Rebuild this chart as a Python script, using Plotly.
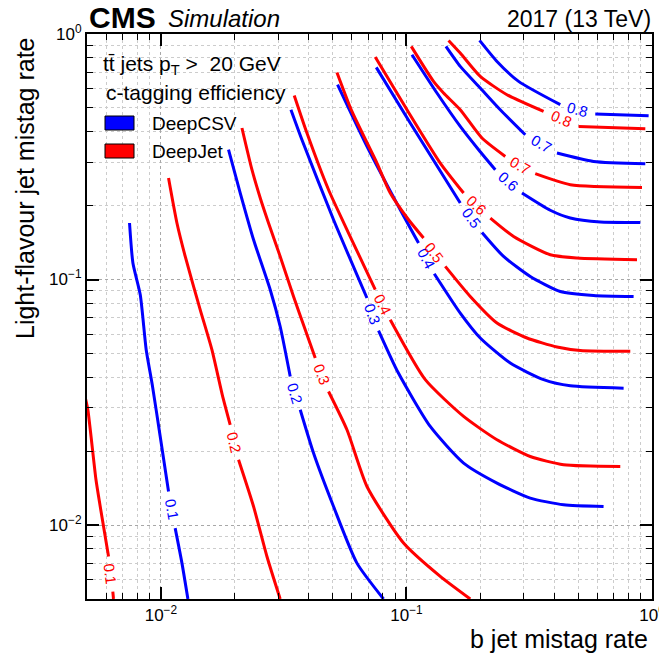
import math
import plotly.graph_objects as go

# ---------------- data ----------------
# x = b jet mistag rate, y = light-flavour jet mistag rate ; None marks the gap where the label sits
levels = ["0.1", "0.2", "0.3", "0.4", "0.5", "0.6", "0.7", "0.8"]

csv_01_x = [0.00745, 0.00769, 0.00824, 0.00871, 0.00922, 0.00993, 0.01074, None, 0.01143, 0.01218, 0.01288]
csv_01_y = [0.1699, 0.1168, 0.0867, 0.0518, 0.0373, 0.0230, 0.01370, None, 0.00972, 0.00700, 0.00500]
csv_02_x = [0.01885, 0.02104, 0.02384, 0.02787, 0.03060, 0.03362, None, 0.03693, 0.04183, 0.05047, 0.06285, 0.08067]
csv_02_y = [0.3379, 0.2251, 0.1453, 0.0909, 0.0644, 0.0403, None, 0.02949, 0.01965, 0.01190, 0.00700, 0.00500]
csv_03_x = [0.03385, 0.03752, 0.05047, 0.06904, None, 0.07698, 0.09261, 0.1250, 0.1709, 0.2337, 0.3193, 0.4364, 0.6350]
csv_03_y = [0.4916, 0.3710, 0.1752, 0.0841, None, 0.0620, 0.0417, 0.02521, 0.01789, 0.01483, 0.01288, 0.01210, 0.01190]
csv_04_x = [0.05240, 0.06904, 0.09435, 0.1120, None, 0.1298, 0.1656, 0.1998, 0.2647, 0.3618, 0.4648, 0.7663]
csv_04_y = [0.6217, 0.3485, 0.1924, 0.1408, None, 0.1056, 0.0730, 0.0578, 0.0457, 0.0391, 0.0369, 0.0361]
csv_05_x = [0.07534, 0.1036, 0.1656, None, 0.2030, 0.2486, 0.3193, 0.4231, 0.5783, 0.8415]
csv_05_y = [0.7311, 0.4340, 0.2049, None, 0.1555, 0.1242, 0.1029, 0.0894, 0.0861, 0.0853]
csv_06_x = [0.1053, 0.1331, 0.1656, 0.1967, 0.2300, None, 0.2954, 0.3852, 0.4648, 0.6160, 0.8960]
csv_06_y = [0.8235, 0.5750, 0.4204, 0.3379, 0.2801, None, 0.2251, 0.1915, 0.1780, 0.1715, 0.1709]
csv_07_x = [0.1448, 0.1656, 0.1998, 0.2410, 0.3047, None, 0.4102, 0.5783, 0.9391]
csv_07_y = [0.8902, 0.7380, 0.6026, 0.4916, 0.3889, None, 0.3276, 0.3027, 0.2962]
csv_08_x = [0.1985, 0.2337, 0.2862, 0.4231, None, 0.5875, 0.9687]
csv_08_y = [0.9417, 0.7731, 0.6411, 0.5153, None, 0.4722, 0.4648]

jet_01_x = [0.00492, 0.00504, 0.00544, 0.00566, 0.00612, None, 0.00637, 0.00641]
jet_01_y = [0.0330, 0.02949, 0.01529, 0.01190, 0.00745, None, 0.00536, 0.00500]
jet_02_x = [0.01074, 0.01162, 0.01256, 0.01446, 0.01613, 0.01777, 0.01915, None, 0.02071, 0.02384, 0.02703, 0.03060]
jet_02_y = [0.2590, 0.1699, 0.1242, 0.0753, 0.0518, 0.0340, 0.0256, None, 0.01845, 0.01190, 0.00745, 0.00500]
jet_03_x = [0.02138, 0.02348, 0.02538, 0.02743, 0.03060, 0.03468, 0.03871, 0.04251, None, 0.04816, 0.05724, 0.06904, 0.09731, 0.1373, 0.1819]
jet_03_y = [0.4142, 0.2801, 0.2148, 0.1699, 0.1242, 0.0853, 0.0624, 0.0479, None, 0.0350, 0.02444, 0.01436, 0.00845, 0.00618, 0.00500]
jet_04_x = [0.03491, 0.03933, 0.04816, 0.05810, 0.07462, None, 0.08590, 0.1193, 0.1709, 0.2337, 0.3193, 0.4364, 0.7428]
jet_04_y = [0.5622, 0.3952, 0.2322, 0.1547, 0.0909, None, 0.0686, 0.0391, 0.02770, 0.02226, 0.01903, 0.01760, 0.01732]
jet_05_x = [0.05211, 0.05998, 0.07582, 0.08590, 0.1020, 0.1174, None, 0.1439, 0.1819, 0.2337, 0.3096, 0.4102, 0.5106, 0.8157]
jet_05_y = [0.6976, 0.4839, 0.2982, 0.2251, 0.1752, 0.1476, None, 0.1131, 0.0853, 0.0665, 0.0578, 0.0531, 0.0514, 0.0510]
jet_06_x = [0.07462, 0.1005, 0.1373, 0.1709, None, 0.2196, 0.2731, 0.3852, 0.4949, 0.8688]
jet_06_y = [0.8059, 0.4916, 0.2982, 0.2251, None, 0.1780, 0.1498, 0.1262, 0.1224, 0.1204]
jet_07_x = [0.1046, 0.1289, 0.1416, 0.1656, 0.2030, 0.2526, None, 0.3346, 0.4648, 0.9105]
jet_07_y = [0.8902, 0.6411, 0.5750, 0.4916, 0.3770, 0.3172, None, 0.2698, 0.2433, 0.2372]
jet_08_x = [0.1484, 0.1656, 0.1998, 0.2566, 0.3618, None, 0.5024, 0.9391]
jet_08_y = [0.9417, 0.8366, 0.6720, 0.5659, 0.4839, None, 0.4204, 0.4113]

major_ticks = [0.01, 0.1, 1.0]
major_text = ["10<sup>\u22122</sup>", "10<sup>\u22121</sup>", "10<sup>0</sup>"]

series_names = ["DeepCSV", "DeepJet"]
series_colors = ["#0000ff", "#ff0000"]

csv_curves = [(csv_01_x, csv_01_y), (csv_02_x, csv_02_y), (csv_03_x, csv_03_y), (csv_04_x, csv_04_y),
              (csv_05_x, csv_05_y), (csv_06_x, csv_06_y), (csv_07_x, csv_07_y), (csv_08_x, csv_08_y)]
jet_curves = [(jet_01_x, jet_01_y), (jet_02_x, jet_02_y), (jet_03_x, jet_03_y), (jet_04_x, jet_04_y),
              (jet_05_x, jet_05_y), (jet_06_x, jet_06_y), (jet_07_x, jet_07_y), (jet_08_x, jet_08_y)]

# ---------------- figure ----------------
FONT = "Liberation Sans, Arial, Helvetica, sans-serif"
W, H = 667, 659
OFF = 8                      # page offset of the plot div (body margin)
L, R, T, B = 87, 652, 34, 599  # plot area in page pixels


def pxp(x):
    return (x - L) / (R - L)


def pyp(y):
    return (B - y) / (B - T)


fig = go.Figure()
annotations = []

for curves, name, color in [(csv_curves, series_names[0], series_colors[0]),
                            (jet_curves, series_names[1], series_colors[1])]:
    for lev, (xs, ys) in zip(levels, curves):
        fig.add_trace(go.Scatter(x=xs, y=ys, mode="lines", name=name, showlegend=False,
                                 line=dict(color=color, width=3, shape="spline", smoothing=0.6),
                                 connectgaps=False, hoverinfo="skip"))
        i = xs.index(None)
        lx1, ly1 = math.log10(xs[i - 1]), math.log10(ys[i - 1])
        lx2, ly2 = math.log10(xs[i + 1]), math.log10(ys[i + 1])
        ang = math.degrees(math.atan2(-(ly2 - ly1), lx2 - lx1))
        annotations.append(dict(x=(lx1 + lx2) / 2, y=(ly1 + ly2) / 2, xref="x", yref="y",
                                text=lev, showarrow=False, textangle=ang,
                                xanchor="center", yanchor="middle",
                                font=dict(family=FONT, size=15, color=color)))

minor_vals = [m * 10 ** e for e in (-3, -2, -1) for m in range(2, 10) if 0.005 <= m * 10 ** e < 1.0]

axis_common = dict(
    type="log", range=[math.log10(0.005), 0], tickmode="array", tickvals=major_ticks, ticktext=major_text,
    ticks="inside", ticklen=12, tickwidth=1.5, tickcolor="black",
    showline=True, linewidth=2, linecolor="black", mirror="allticks",
    showgrid=True, gridcolor="#a8a8a8", gridwidth=1.3, griddash="dot",
    zeroline=False, automargin=False,
    tickfont=dict(family=FONT, size=17, color="black"),
    minor=dict(tickmode="array", tickvals=minor_vals, ticks="inside", ticklen=6, tickwidth=1.2,
               tickcolor="black", showgrid=True, gridcolor="#cccccc", gridwidth=1, griddash="dot"),
)

fig.update_layout(
    width=W, height=H, template="none",
    margin=dict(l=L - OFF, r=W - R + OFF, t=T - OFF, b=H - B + OFF, pad=0),
    paper_bgcolor="white", plot_bgcolor="white",
    showlegend=False,
    xaxis=axis_common, yaxis=axis_common,
)

# header texts (positions in page pixels)
annotations += [
    dict(x=pxp(87), y=pyp(17), xref="paper", yref="paper", text="<b>CMS</b>", showarrow=False,
         xanchor="left", yanchor="middle", font=dict(family=FONT, size=30, color="black")),
    dict(x=pxp(166), y=pyp(19), xref="paper", yref="paper", text="<i>Simulation</i>", showarrow=False,
         xanchor="left", yanchor="middle", font=dict(family=FONT, size=24, color="black")),
    dict(x=pxp(653), y=pyp(19), xref="paper", yref="paper", text="2017 (13 TeV)", showarrow=False,
         xanchor="right", yanchor="middle", font=dict(family=FONT, size=23, color="black")),
    dict(x=pxp(101), y=pyp(65), xref="paper", yref="paper",
         text="tt\u0304 jets p<sub>T</sub> >\u00a0 20 GeV", showarrow=False,
         xanchor="left", yanchor="middle", font=dict(family=FONT, size=21, color="black")),
    dict(x=pxp(104), y=pyp(92), xref="paper", yref="paper", text="c-tagging efficiency", showarrow=False,
         xanchor="left", yanchor="middle", font=dict(family=FONT, size=21, color="black")),
    dict(x=pxp(650), y=pyp(639), xref="paper", yref="paper", text="b jet mistag rate", showarrow=False,
         xanchor="right", yanchor="middle", font=dict(family=FONT, size=25, color="black")),
    dict(x=pxp(25), y=pyp(35), xref="paper", yref="paper", text="Light-flavour jet mistag rate",
         showarrow=False, textangle=-90, xanchor="center", yanchor="top",
         font=dict(family=FONT, size=25, color="black")),
]

# legend
shapes = []
for k, (name, color) in enumerate(zip(series_names, series_colors)):
    top = 116 + 28 * k
    shapes.append(dict(type="rect", xref="paper", yref="paper", x0=pxp(105), x1=pxp(134),
                       y0=pyp(top + 14), y1=pyp(top), fillcolor=color, line=dict(color="black", width=1)))
    annotations.append(dict(x=pxp(150), y=pyp(top + 7.5), xref="paper", yref="paper", text=name,
                            showarrow=False, xanchor="left", yanchor="middle",
                            font=dict(family=FONT, size=19, color="black")))

fig.update_layout(annotations=annotations, shapes=shapes)
fig.write_html("out.html")
